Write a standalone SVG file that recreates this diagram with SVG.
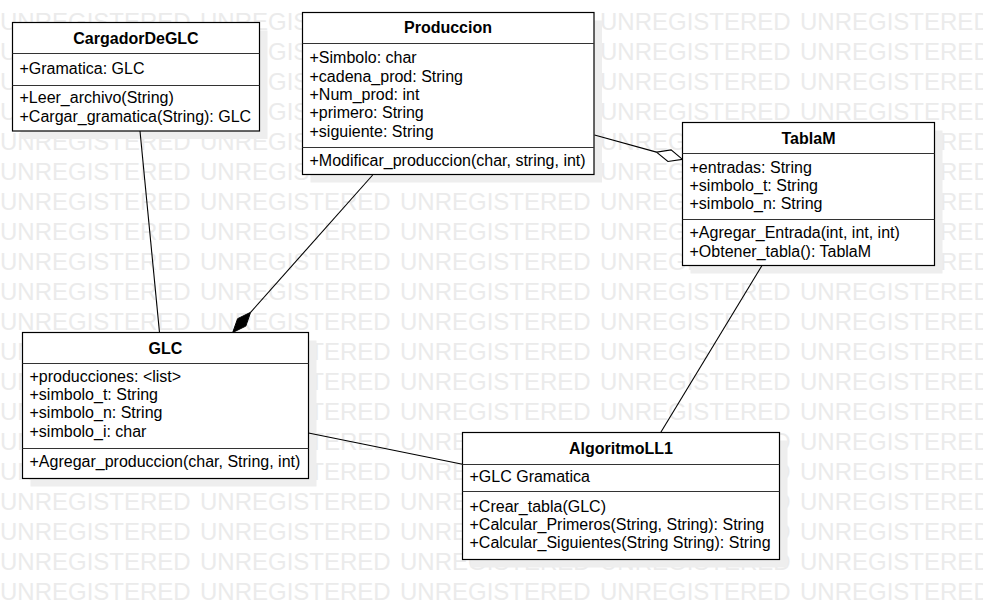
<svg xmlns="http://www.w3.org/2000/svg" width="983" height="610" viewBox="0 0 983 610">
<style>
.wm{font-family:"Liberation Sans",Arial,sans-serif;font-size:24px;fill:#ebebeb;word-spacing:2.65px}
.sh{fill:#eeeeee}
.box{fill:#fff;stroke:#000;stroke-width:1.2}
.sep{stroke:#333;stroke-width:1.2}
.t{font-family:"Liberation Sans",Arial,sans-serif;font-size:16px;font-weight:bold;fill:#000;text-anchor:middle}
.a{font-family:"Liberation Sans",Arial,sans-serif;font-size:16px;fill:#000}
.c{stroke:#000;stroke-width:1.1;fill:none}
</style>
<rect width="983" height="610" fill="#fff"/>
<g id="watermark">
<text class="wm" x="0" y="30">UNREGISTERED UNREGISTERED UNREGISTERED UNREGISTERED UNREGISTERED</text>
<text class="wm" x="0" y="60">UNREGISTERED UNREGISTERED UNREGISTERED UNREGISTERED UNREGISTERED</text>
<text class="wm" x="0" y="90">UNREGISTERED UNREGISTERED UNREGISTERED UNREGISTERED UNREGISTERED</text>
<text class="wm" x="0" y="120">UNREGISTERED UNREGISTERED UNREGISTERED UNREGISTERED UNREGISTERED</text>
<text class="wm" x="0" y="150">UNREGISTERED UNREGISTERED UNREGISTERED UNREGISTERED UNREGISTERED</text>
<text class="wm" x="0" y="180">UNREGISTERED UNREGISTERED UNREGISTERED UNREGISTERED UNREGISTERED</text>
<text class="wm" x="0" y="210">UNREGISTERED UNREGISTERED UNREGISTERED UNREGISTERED UNREGISTERED</text>
<text class="wm" x="0" y="240">UNREGISTERED UNREGISTERED UNREGISTERED UNREGISTERED UNREGISTERED</text>
<text class="wm" x="0" y="270">UNREGISTERED UNREGISTERED UNREGISTERED UNREGISTERED UNREGISTERED</text>
<text class="wm" x="0" y="300">UNREGISTERED UNREGISTERED UNREGISTERED UNREGISTERED UNREGISTERED</text>
<text class="wm" x="0" y="330">UNREGISTERED UNREGISTERED UNREGISTERED UNREGISTERED UNREGISTERED</text>
<text class="wm" x="0" y="360">UNREGISTERED UNREGISTERED UNREGISTERED UNREGISTERED UNREGISTERED</text>
<text class="wm" x="0" y="390">UNREGISTERED UNREGISTERED UNREGISTERED UNREGISTERED UNREGISTERED</text>
<text class="wm" x="0" y="420">UNREGISTERED UNREGISTERED UNREGISTERED UNREGISTERED UNREGISTERED</text>
<text class="wm" x="0" y="450">UNREGISTERED UNREGISTERED UNREGISTERED UNREGISTERED UNREGISTERED</text>
<text class="wm" x="0" y="480">UNREGISTERED UNREGISTERED UNREGISTERED UNREGISTERED UNREGISTERED</text>
<text class="wm" x="0" y="510">UNREGISTERED UNREGISTERED UNREGISTERED UNREGISTERED UNREGISTERED</text>
<text class="wm" x="0" y="540">UNREGISTERED UNREGISTERED UNREGISTERED UNREGISTERED UNREGISTERED</text>
<text class="wm" x="0" y="570">UNREGISTERED UNREGISTERED UNREGISTERED UNREGISTERED UNREGISTERED</text>
<text class="wm" x="0" y="600">UNREGISTERED UNREGISTERED UNREGISTERED UNREGISTERED UNREGISTERED</text>
</g>
<g id="shadows">
<rect class="sh" x="20.5" y="30.5" width="247" height="108.5"/>
<rect class="sh" x="310.5" y="20.5" width="291.5" height="162"/>
<rect class="sh" x="690.5" y="130.5" width="252" height="143"/>
<rect class="sh" x="30.5" y="340.5" width="286" height="146"/>
<rect class="sh" x="470.5" y="440.5" width="317" height="127"/>
</g>
<g id="connectors">
<line class="c" x1="140" y1="131" x2="159.5" y2="332.5"/>
<line class="c" x1="372.7" y1="175" x2="250.6" y2="312.3"/>
<polygon points="232.7,332.5 245.8,326.1 250.6,312.3 237.6,318.7" fill="#000" stroke="#000" stroke-width="1"/>
<line class="c" x1="594.5" y1="135" x2="656.5" y2="152.1"/>
<polygon points="682.5,159.3 671.1,149.9 656.5,152.1 667.9,161.5" fill="#fff" stroke="#000" stroke-width="1.1"/>
<line class="c" x1="762" y1="265.5" x2="660.7" y2="432.5"/>
<line class="c" x1="308.5" y1="433" x2="462.5" y2="464.3"/>
</g>
<g id="CargadorDeGLC">
<rect class="box" x="12.5" y="22.5" width="247" height="108.5"/>
<line class="sep" x1="12.5" y1="53.5" x2="259.5" y2="53.5"/>
<line class="sep" x1="12.5" y1="85.5" x2="259.5" y2="85.5"/>
<text class="t" x="136" y="43.5">CargadorDeGLC</text>
<text class="a" x="19.5" y="74">+Gramatica: GLC</text>
<text class="a" x="19.5" y="103.3">+Leer_archivo(String)</text>
<text class="a" x="19.5" y="121.7">+Cargar_gramatica(String): GLC</text>
</g>
<g id="Produccion">
<rect class="box" x="302.5" y="12.5" width="291.5" height="162"/>
<line class="sep" x1="302.5" y1="43.5" x2="594" y2="43.5"/>
<line class="sep" x1="302.5" y1="147.5" x2="594" y2="147.5"/>
<text class="t" x="448" y="33">Produccion</text>
<text class="a" x="309.5" y="63.3">+Simbolo: char</text>
<text class="a" x="309.5" y="81.7">+cadena_prod: String</text>
<text class="a" x="309.5" y="100">+Num_prod: int</text>
<text class="a" x="309.5" y="118.3">+primero: String</text>
<text class="a" x="309.5" y="136.7">+siguiente: String</text>
<text class="a" x="309.5" y="166">+Modificar_produccion(char, string, int)</text>
</g>
<g id="TablaM">
<rect class="box" x="682.5" y="122.5" width="252" height="143"/>
<line class="sep" x1="682.5" y1="153.5" x2="934.5" y2="153.5"/>
<line class="sep" x1="682.5" y1="219.5" x2="934.5" y2="219.5"/>
<text class="t" x="808.5" y="143.5">TablaM</text>
<text class="a" x="689.5" y="172.7">+entradas: String</text>
<text class="a" x="689.5" y="191">+simbolo_t: String</text>
<text class="a" x="689.5" y="209.3">+simbolo_n: String</text>
<text class="a" x="689.5" y="238.3">+Agregar_Entrada(int, int, int)</text>
<text class="a" x="689.5" y="256.7">+Obtener_tabla(): TablaM</text>
</g>
<g id="GLC">
<rect class="box" x="22.5" y="332.5" width="286" height="146"/>
<line class="sep" x1="22.5" y1="363.5" x2="308.5" y2="363.5"/>
<line class="sep" x1="22.5" y1="448.5" x2="308.5" y2="448.5"/>
<text class="t" x="165.5" y="353.5">GLC</text>
<text class="a" x="29.5" y="381.7">+producciones: &lt;list&gt;</text>
<text class="a" x="29.5" y="400">+simbolo_t: String</text>
<text class="a" x="29.5" y="418.3">+simbolo_n: String</text>
<text class="a" x="29.5" y="436.7">+simbolo_i: char</text>
<text class="a" x="29.5" y="466.7">+Agregar_produccion(char, String, int)</text>
</g>
<g id="AlgoritmoLL1">
<rect class="box" x="462.5" y="432.5" width="317" height="127"/>
<line class="sep" x1="462.5" y1="464.5" x2="779.5" y2="464.5"/>
<line class="sep" x1="462.5" y1="491.5" x2="779.5" y2="491.5"/>
<text class="t" x="621" y="453.5">AlgoritmoLL1</text>
<text class="a" x="469.5" y="482.3">+GLC Gramatica</text>
<text class="a" x="469.5" y="511.7">+Crear_tabla(GLC)</text>
<text class="a" x="469.5" y="530">+Calcular_Primeros(String, String): String</text>
<text class="a" x="469.5" y="548.3">+Calcular_Siguientes(String String): String</text>
</g>
</svg>
